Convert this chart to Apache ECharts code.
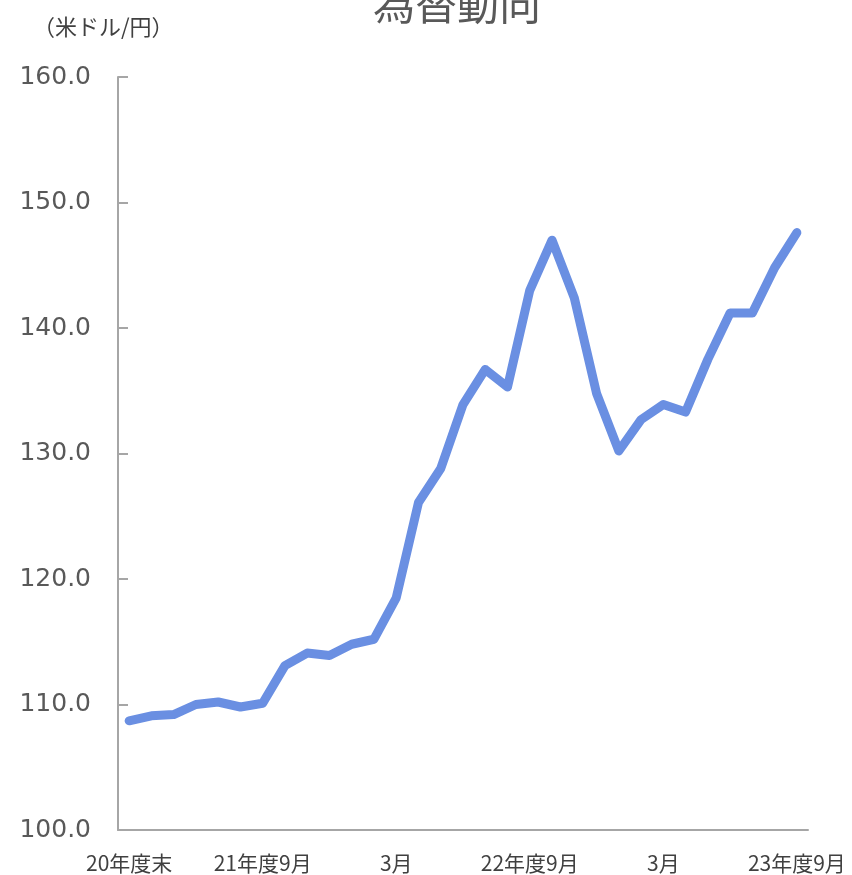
<!DOCTYPE html>
<html>
<head>
<meta charset="utf-8">
<script src="https://cdn.jsdelivr.net/npm/echarts@6/dist/echarts.min.js"></script>
<style>html,body{margin:0;padding:0;background:#fff;}#c{width:852px;height:875px;}</style>
</head>
<body>
<div id="c"></div>
<script>
const months = ['2021/3','2021/4','2021/5','2021/6','2021/7','2021/8','2021/9','2021/10','2021/11','2021/12',
  '2022/1','2022/2','2022/3','2022/4','2022/5','2022/6','2022/7','2022/8','2022/9','2022/10','2022/11','2022/12',
  '2023/1','2023/2','2023/3','2023/4','2023/5','2023/6','2023/7','2023/8','2023/9'];
const usdJpy = [108.7,109.1,109.2,110.0,110.2,109.8,110.1,113.1,114.1,113.9,
  114.8,115.2,118.5,126.1,128.8,133.9,136.7,135.3,143.0,147.0,142.4,134.8,
  130.2,132.7,133.9,133.3,137.5,141.2,141.2,144.8,147.6];
const labelMonths = ['2021/3','2021/9','2022/3','2022/9','2023/3','2023/9'];
const labelTexts = ['20年度末','21年度9月','3月','22年度9月','3月','23年度9月'];
const yTicks = {min:100, max:160, interval:10};

const font = '"Noto Sans CJK JP","DejaVu Sans",sans-serif';
const chart = echarts.init(document.getElementById('c'));
chart.setOption({
  animation:false,
  title:{text:'為替動向', left:452, textAlign:'center', top:-22,
    textStyle:{fontFamily:font, fontSize:42, fontWeight:'normal', color:'#595959'}},
  graphic:[{type:'text', left:33, top:16, style:{text:'（米ドル/円）', fontFamily:font, fontSize:22, fill:'#404040'}}],
  grid:{left:118, right:44, top:77, bottom:45, containLabel:false},
  xAxis:{type:'category', data:months, boundaryGap:true,
    axisLine:{lineStyle:{color:'#a6a6a6', width:2}},
    axisTick:{show:false},
    axisLabel:{interval:0, margin:23, fontFamily:font, fontSize:21, color:'#404040',
      formatter:(v)=>{const i=labelMonths.indexOf(v); return i>=0?labelTexts[i]:'';}}},
  yAxis:{type:'value', min:yTicks.min, max:yTicks.max, interval:yTicks.interval,
    splitLine:{show:false},
    axisLine:{show:true, lineStyle:{color:'#a6a6a6', width:2}},
    axisTick:{show:true, inside:true, length:10, lineStyle:{color:'#a6a6a6', width:2}},
    axisLabel:{margin:27, fontFamily:'"DejaVu Sans",sans-serif', fontSize:25, color:'#595959',
      formatter:(v)=>v.toFixed(1)}},
  series:[{type:'line', data:usdJpy, symbol:'none', smooth:false,
    lineStyle:{color:'#6a8fe2', width:9, cap:'round', join:'round'}}]
});
</script>
</body>
</html>
